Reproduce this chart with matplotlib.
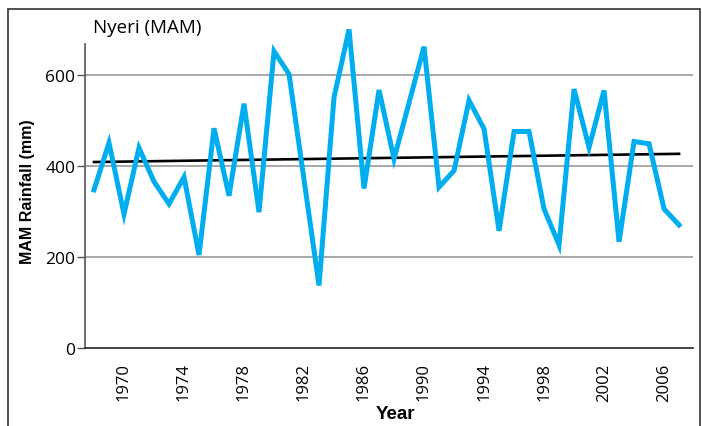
#!/usr/bin/env python3
# Nyeri MAM rainfall, 1968-2007, with linear trend

import matplotlib.pyplot as plt
from matplotlib.patches import Rectangle

# ---------------------------------------------------------------------------
# Data
# ---------------------------------------------------------------------------

years = list(range(1968, 2008))
rainfall = [348, 451, 295, 440, 366, 317, 376, 205, 483, 335,
            537, 299, 652, 602, 370, 138, 551, 700, 351, 567,
            416, 539, 662, 354, 390, 544, 482, 258, 476, 476,
            306, 227, 569, 441, 566, 234, 454, 449, 306, 271]

trend_years = [1968, 2007]
trend_levels = [409, 427]

yticks = [0, 200, 400, 600]
xticks = list(range(1970, 2007, 4))

title = "Nyeri (MAM)"
BLUE = "#00AEEF"

# ---------------------------------------------------------------------------
# Drawing
# ---------------------------------------------------------------------------

def main():
    fig = plt.figure(figsize=(7.02, 4.27), dpi=100)
    plt.rcParams["font.family"] = ["Open Sans", "DejaVu Sans"]

    # outer frame (bottom edge runs off the image)
    fig.patches.append(Rectangle((8 / 702, -0.05), 692 / 702, 1 - 10 / 427 + 0.05,
                                 transform=fig.transFigure, fill=False,
                                 edgecolor="#333333", lw=1.2))

    ax = fig.add_axes([85 / 702, 77.6 / 427, 608 / 702, 304.4 / 427])

    for t in yticks[1:]:
        ax.axhline(t, color="#999999", lw=1.2, zorder=1)

    ax.plot(trend_years, trend_levels, color="black", lw=1.9, zorder=2)
    ax.plot(years, rainfall, color=BLUE, lw=3.6, zorder=3,
            solid_joinstyle="miter", clip_on=False)

    ax.set_xlim(1967.4, 2007.93)
    ax.set_ylim(0, 668)
    ax.set_yticks(yticks)
    ax.set_xticks(xticks)
    ax.set_xticklabels([str(x) for x in xticks], rotation=90, fontsize=12)
    ax.tick_params(axis="x", length=0, pad=10)
    ax.tick_params(axis="y", length=6, width=1, color="#555555",
                   direction="out", pad=1, labelsize=12.5)

    for side in ("top", "right"):
        ax.spines[side].set_visible(False)
    ax.spines["left"].set_color("#555555")
    ax.spines["left"].set_linewidth(1.2)
    ax.spines["bottom"].set_color("#222222")
    ax.spines["bottom"].set_linewidth(1.2)

    fig.text(93 / 702, 1 - 28 / 427, title, fontsize=13.5, va="center", ha="left")
    # bold condensed look: Liberation Sans bold
    fig.text(395 / 702, 1 - 415 / 427, "Year", fontsize=13.5, fontweight="bold",
             family="Liberation Sans", ha="center", va="center")
    fig.text(28 / 702, 1 - 192 / 427, "MAM Rainfall (mm)", fontsize=11.5,
             fontweight="bold", family="Liberation Sans",
             rotation=90, ha="center", va="center")

    fig.savefig("out.png", dpi=100)


if __name__ == "__main__":
    main()
